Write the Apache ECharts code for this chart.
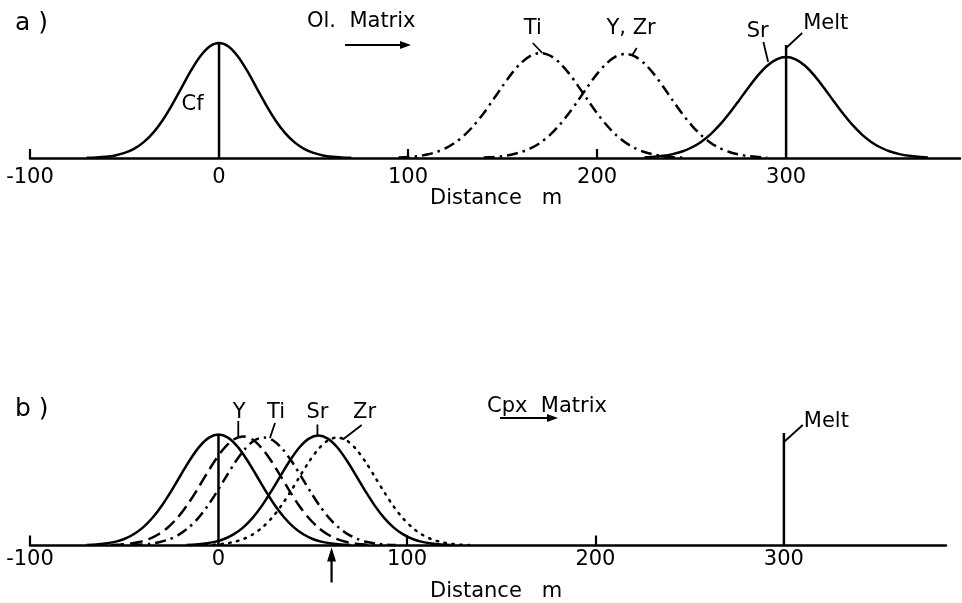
<!DOCTYPE html>
<html>
<head>
<meta charset="utf-8">
<script src="https://cdn.jsdelivr.net/npm/echarts@6/dist/echarts.min.js"></script>
<style>
  html, body { margin: 0; padding: 0; background: #fff; }
  #chart { width: 962px; height: 603px; }
</style>
</head>
<body>
<div id="chart"></div>
<script>
// Distance axis ticks (m)
const tickLabels = [-100, 0, 100, 200, 300];
const tickMarks = [-100, 100, 200];

// Panel a: olivine matrix profiles (relative concentration)
const cfAx = [-70, -65, -60, -55, -50, -45, -40, -35, -30, -25, -20, -15, -10, -5, 0, 5, 10, 15, 20, 25, 30, 35, 40, 45, 50, 55, 60, 65, 70];
const cfAy = [0.2, 0.6, 1.3, 2.6, 5.1, 9.2, 15.6, 24.9, 37.3, 52.6, 69.7, 86.8, 101.5, 111.5, 115, 111.5, 101.5, 86.8, 69.7, 52.6, 37.3, 24.9, 15.6, 9.2, 5.1, 2.6, 1.3, 0.6, 0.2];
const tiAx = [95, 100, 105, 110, 115, 120, 125, 130, 135, 140, 145, 150, 155, 160, 165, 170, 175, 180, 185, 190, 195, 200, 205, 210, 215, 220, 225, 230, 235, 240, 245];
const tiAy = [0.5, 1.0, 1.9, 3.5, 6.0, 9.9, 15.5, 23.1, 33.0, 44.8, 58.2, 71.9, 84.9, 95.5, 102.5, 105, 102.5, 95.5, 84.9, 71.9, 58.2, 44.8, 33.0, 23.1, 15.5, 9.9, 6.0, 3.5, 1.9, 1.0, 0.5];
const yzrAx = [140, 145, 150, 155, 160, 165, 170, 175, 180, 185, 190, 195, 200, 205, 210, 215, 220, 225, 230, 235, 240, 245, 250, 255, 260, 265, 270, 275, 280, 285, 290];
const yzrAy = [0.5, 1.0, 1.9, 3.5, 6.0, 9.8, 15.3, 22.9, 32.7, 44.4, 57.6, 71.3, 84.1, 94.6, 101.6, 104, 101.6, 94.6, 84.1, 71.3, 57.6, 44.4, 32.7, 22.9, 15.3, 9.8, 6.0, 3.5, 1.9, 1.0, 0.5];
const srAx = [225, 230, 235, 240, 245, 250, 255, 260, 265, 270, 275, 280, 285, 290, 295, 300, 305, 310, 315, 320, 325, 330, 335, 340, 345, 350, 355, 360, 365, 370, 375];
const srAy = [0.6, 1.2, 2.2, 3.9, 6.5, 10.5, 16.1, 23.7, 33.3, 44.7, 57.3, 70.3, 82.4, 92.3, 98.7, 101, 98.7, 92.3, 82.4, 70.3, 57.3, 44.7, 33.3, 23.7, 16.1, 10.5, 6.5, 3.9, 2.2, 1.2, 0.6];
const cfTopA = 115, meltTopA = 113;

// Panel b: clinopyroxene matrix profiles
const cfBx = [-70, -65, -60, -55, -50, -45, -40, -35, -30, -25, -20, -15, -10, -5, 0, 5, 10, 15, 20, 25, 30, 35, 40, 45, 50, 55, 60, 65, 70];
const cfBy = [0.4, 0.9, 1.9, 3.6, 6.5, 11.2, 18.1, 27.7, 40.0, 54.6, 70.5, 86.0, 99.1, 107.9, 111, 107.9, 99.1, 86.0, 70.5, 54.6, 40.0, 27.7, 18.1, 11.2, 6.5, 3.6, 1.9, 0.9, 0.4];
const yBx = [-57, -52, -47, -42, -37, -32, -27, -22, -17, -12, -7, -2, 3, 8, 13, 18, 23, 28, 33, 38, 43, 48, 53, 58, 63, 68, 73, 78, 83];
const yBy = [0.4, 0.9, 1.8, 3.5, 6.4, 11.0, 17.8, 27.2, 39.3, 53.7, 69.3, 84.5, 97.3, 106.0, 109, 106.0, 97.3, 84.5, 69.3, 53.7, 39.3, 27.2, 17.8, 11.0, 6.4, 3.5, 1.8, 0.9, 0.4];
const tiBx = [-46, -41, -36, -31, -26, -21, -16, -11, -6, -1, 4, 9, 14, 19, 24, 29, 34, 39, 44, 49, 54, 59, 64, 69, 74, 79, 84, 89, 94];
const tiBy = [0.4, 0.9, 1.8, 3.5, 6.3, 10.9, 17.6, 26.9, 38.9, 53.2, 68.6, 83.7, 96.4, 105.0, 108, 105.0, 96.4, 83.7, 68.6, 53.2, 38.9, 26.9, 17.6, 10.9, 6.3, 3.5, 1.8, 0.9, 0.4];
const srBx = [-17, -12, -7, -2, 3, 8, 13, 18, 23, 28, 33, 38, 43, 48, 53, 58, 63, 68, 73, 78, 83, 88, 93, 98, 103, 108, 113, 118, 123];
const srBy = [0.4, 0.9, 1.9, 3.6, 6.5, 11.1, 17.9, 27.4, 39.6, 54.2, 69.9, 85.2, 98.2, 106.9, 110, 106.9, 98.2, 85.2, 69.9, 54.2, 39.6, 27.4, 17.9, 11.1, 6.5, 3.6, 1.9, 0.9, 0.4];
const zrBx = [-7, -2, 3, 8, 13, 18, 23, 28, 33, 38, 43, 48, 53, 58, 63, 68, 73, 78, 83, 88, 93, 98, 103, 108, 113, 118, 123, 128, 133];
const zrBy = [0.4, 0.9, 1.8, 3.5, 6.3, 10.9, 17.6, 26.9, 38.9, 53.2, 68.6, 83.7, 96.4, 105.0, 108, 105.0, 96.4, 83.7, 68.6, 53.2, 38.9, 26.9, 17.6, 10.9, 6.3, 3.5, 1.8, 0.9, 0.4];
const cfTopB = 111, meltTopB = 112.5;
const arrowPos = 60;

// Curve labels: [name, x, y] and their leader lines [[x1,y1],[x2,y2]]
const labelsA = [['Cf', -14, 53], ['Ti', 166, 129], ['Y, Zr', 218, 129], ['Sr', 285, 126], ['Melt', 321, 134.5]];
const leadersA = [
  [[166, 115], [171, 105]],
  [[221, 110], [218.5, 102.5]],
  [[288, 116], [290.5, 96]],
  [[308.5, 125], [300, 110]]
];
const labelsB = [['Y', 11, 132.5], ['Ti', 30.5, 132.5], ['Sr', 52.5, 132.5], ['Zr', 77.5, 132.5], ['Melt', 322.5, 123.5]];
const leadersB = [
  [[10.5, 124.5], [10.5, 108.8]],
  [[30, 122.5], [27.3, 107.5]],
  [[52.5, 121], [52.5, 110.5]],
  [[76, 120.5], [66, 106]],
  [[310, 120.5], [300, 103.5]]
];

const FONT = 'DejaVu Sans';
const INK = '#000';
const DASHDOT = [11, 5, 2.5, 5];
const DASH = [13, 6];
const DOT = [1.5, 6.5];

function pairs(xs, ys) {
  return xs.map((x, i) => [x, ys[i]]);
}

function curve(panel, xs, ys, dash, cap) {
  return {
    type: 'line', xAxisIndex: panel, yAxisIndex: panel,
    data: pairs(xs, ys), smooth: 0.3, symbol: 'none', silent: true,
    lineStyle: { color: INK, width: 2.5, type: dash, cap: cap || 'butt' }
  };
}

function segment(panel, pts, width) {
  return {
    type: 'line', xAxisIndex: panel, yAxisIndex: panel,
    data: pts, symbol: 'none', silent: true, clip: false,
    lineStyle: { color: INK, width: width, type: 'solid' }
  };
}

function xAxisFor(panel, max, margin, tickLen) {
  return {
    gridIndex: panel, type: 'value', min: -100, max: max, interval: 100,
    axisLine: { lineStyle: { color: INK, width: 2.5 } },
    axisTick: { show: true, inside: true, length: tickLen, customValues: tickMarks,
                lineStyle: { color: INK, width: 2.2 } },
    axisLabel: { customValues: tickLabels, margin: margin, color: INK,
                 fontFamily: FONT, fontSize: 21 },
    splitLine: { show: false }
  };
}

const chart = echarts.init(document.getElementById('chart'), null, { renderer: 'canvas' });

const series = [
  // panel a
  curve(0, cfAx, cfAy, 'solid'),
  curve(0, tiAx, tiAy, DASHDOT),
  curve(0, yzrAx, yzrAy, DASHDOT),
  curve(0, srAx, srAy, 'solid'),
  segment(0, [[0, 0], [0, cfTopA]], 2.5),
  segment(0, [[300, 0], [300, meltTopA]], 2.5),
  ...leadersA.map(l => segment(0, l, 1.8)),
  // panel b
  curve(1, cfBx, cfBy, 'solid'),
  curve(1, yBx, yBy, DASH),
  curve(1, tiBx, tiBy, DASHDOT),
  curve(1, srBx, srBy, 'solid'),
  curve(1, zrBx, zrBy, DOT, 'round'),
  segment(1, [[0, 0], [0, cfTopB]], 2.5),
  segment(1, [[300, 0], [300, meltTopB]], 2.5),
  ...leadersB.map(l => segment(1, l, 1.8)),
  {
    type: 'line', xAxisIndex: 1, yAxisIndex: 1, silent: true, clip: false,
    showSymbol: true,
    lineStyle: { color: INK, width: 2.2 },
    itemStyle: { color: INK },
    data: [
      { value: [arrowPos, -37], symbol: 'none' },
      { value: [arrowPos, -9], symbol: 'triangle', symbolSize: [9, 14] }
    ]
  }
];

function txt(text, x, y, size, align) {
  return {
    type: 'text', x: x, y: y, silent: true,
    style: { text: text, fill: INK, font: size + 'px "' + FONT + '"',
             align: align || 'left', verticalAlign: 'middle',
             textAlign: align || 'left', textVerticalAlign: 'middle' }
  };
}

function arrow(x1, x2, y) {
  return [
    { type: 'line', silent: true, shape: { x1: x1, y1: y, x2: x2 - 8, y2: y },
      style: { stroke: INK, lineWidth: 2 } },
    { type: 'polygon', silent: true,
      shape: { points: [[x2 - 11, y - 4], [x2, y], [x2 - 11, y + 4]] },
      style: { fill: INK } }
  ];
}

chart.setOption({
  animation: false,
  backgroundColor: '#fff',
  grid: [
    { left: 30, top: 28, width: 930, height: 130 },
    { left: 30, top: 415.5, width: 916, height: 130 }
  ],
  xAxis: [xAxisFor(0, 392, 9, 9), xAxisFor(1, 386, 4, 10)],
  yAxis: [
    { gridIndex: 0, type: 'value', min: 0, max: 130, show: false },
    { gridIndex: 1, type: 'value', min: 0, max: 130, show: false }
  ],
  series: series
});

// Curve names placed through each panel's own scales
function curveLabels(panel, labels) {
  return labels.map(l => {
    const p = chart.convertToPixel({ gridIndex: panel }, [l[1], l[2]]);
    return txt(l[0], p[0], p[1], 21, 'center');
  });
}

chart.setOption({
  graphic: [
    txt('a )', 15, 23, 25),
    txt('Ol.  Matrix', 307, 22, 21),
    ...arrow(345, 411, 45),
    txt('Distance   m', 430, 199, 21),
    txt('b )', 15, 409, 25),
    txt('Cpx  Matrix', 487, 407, 21),
    ...arrow(500, 558, 418),
    txt('Distance   m', 430, 592, 21),
    ...curveLabels(0, labelsA),
    ...curveLabels(1, labelsB)
  ]
});
</script>
</body>
</html>
